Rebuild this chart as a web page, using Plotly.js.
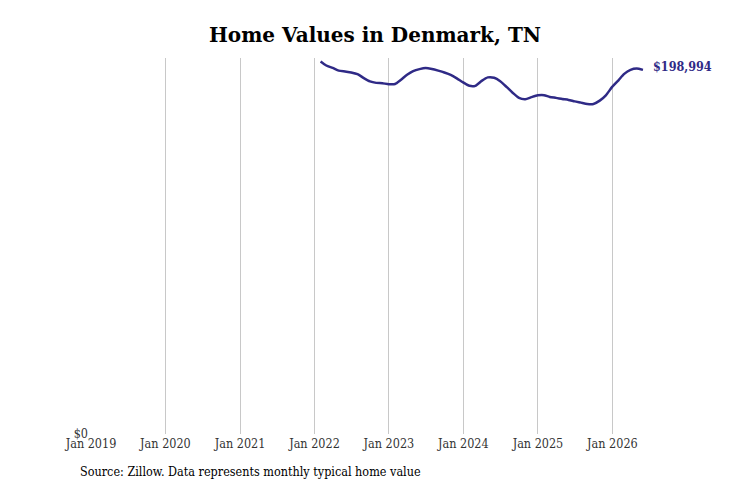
<!DOCTYPE html>
<html>
<head>
<meta charset="utf-8">
<script src="https://cdn.plot.ly/plotly-3.0.1.min.js"></script>
<style>
  body { margin: 0; background: #ffffff; }
  #chart { width: 731px; height: 487px; }
</style>
</head>
<body>
<div id="chart"></div>
<script>
// Valores mensuales (fin de mes)
const months = [
    '2022-01-31', '2022-02-28', '2022-03-31', '2022-04-30', '2022-05-31', '2022-06-30',
    '2022-07-31', '2022-08-31', '2022-09-30', '2022-10-31', '2022-11-30', '2022-12-31',
    '2023-01-31', '2023-02-28', '2023-03-31', '2023-04-30', '2023-05-31', '2023-06-30',
    '2023-07-31', '2023-08-31', '2023-09-30', '2023-10-31', '2023-11-30', '2023-12-31',
    '2024-01-31', '2024-02-29', '2024-03-31', '2024-04-30', '2024-05-31', '2024-06-30',
    '2024-07-31', '2024-08-31', '2024-09-30', '2024-10-31', '2024-11-30', '2024-12-31',
    '2025-01-31', '2025-02-28', '2025-03-31', '2025-04-30', '2025-05-31', '2025-06-30',
    '2025-07-31', '2025-08-31', '2025-09-30', '2025-10-31', '2025-11-30', '2025-12-31',
    '2026-01-31', '2026-02-28', '2026-03-31', '2026-04-30', '2026-05-31'
];

const homeValues = [
    203600, 201400, 200100, 198600, 198100, 197600,
    196700, 194500, 192700, 191900, 191700, 191200,
    191300, 193500, 196300, 198300, 199400, 200000,
    199500, 198600, 197600, 196300, 194400, 192200,
    190300, 190300, 193000, 194900, 194700, 192800,
    189700, 186400, 183700, 183000, 184100, 185100,
    185200, 184200, 183700, 183100, 182600, 181800,
    181100, 180400, 180400, 182200, 185100, 189700,
    193300, 196800, 199000, 199700, 198994
];

const tickDates = ['2019-01-01', '2020-01-01', '2021-01-01', '2022-01-01',
                   '2023-01-01', '2024-01-01', '2025-01-01', '2026-01-01'];
const tickLabels = ['Jan 2019', 'Jan 2020', 'Jan 2021', 'Jan 2022',
                    'Jan 2023', 'Jan 2024', 'Jan 2025', 'Jan 2026'];

const lineColor = '#2f2a86';
const serif = 'DejaVu Serif Condensed, DejaVu Serif, serif';

const lastIdx = homeValues.length - 1;
const lastLabel = '$' + homeValues[lastIdx].toLocaleString('en-US');

const trace = {
    type: 'scatter',
    mode: 'lines',
    x: months,
    y: homeValues,
    line: { color: lineColor, width: 2.5, shape: 'spline', smoothing: 0.6 },
    hoverinfo: 'x+y'
};

const layout = {
    width: 731,
    height: 487,
    paper_bgcolor: '#ffffff',
    plot_bgcolor: '#ffffff',
    margin: { t: 58, b: 53, l: 91, r: 86 },
    showlegend: false,
    title: {
        text: '<b>Home Values in Denmark, TN</b>',
        font: { family: 'DejaVu Serif, serif', size: 20, color: '#000000' },
        x: 0.513,
        xanchor: 'center',
        y: 0.928,
        yanchor: 'middle'
    },
    xaxis: {
        type: 'date',
        range: ['2019-01-01', '2026-06-10'],
        tickvals: tickDates,
        ticktext: tickLabels,
        showgrid: true,
        gridcolor: '#c8c8c8',
        gridwidth: 1,
        zeroline: false,
        showline: false,
        ticks: '',
        tickfont: { family: serif, size: 12.5, color: '#333333' }
    },
    yaxis: {
        range: [0, 205500],
        tickvals: [0],
        ticktext: ['$0'],
        showgrid: false,
        zeroline: false,
        showline: false,
        ticks: '',
        ticklabelstandoff: 2,
        tickfont: { family: serif, size: 12.5, color: '#333333' }
    },
    annotations: [
        {
            x: months[lastIdx],
            y: homeValues[lastIdx],
            xref: 'x',
            yref: 'y',
            text: '<b>' + lastLabel + '</b>',
            showarrow: false,
            xanchor: 'left',
            yanchor: 'middle',
            xshift: 8,
            yshift: 3,
            font: { family: serif, size: 12.5, color: lineColor }
        },
        {
            x: -0.024,
            y: -0.101,
            xref: 'paper',
            yref: 'paper',
            text: 'Source: Zillow. Data represents monthly typical home value',
            showarrow: false,
            xanchor: 'left',
            yanchor: 'middle',
            font: { family: serif, size: 12.5, color: '#000000' }
        }
    ]
};

Plotly.newPlot('chart', [trace], layout, { displayModeBar: false, staticPlot: true });
</script>
</body>
</html>
